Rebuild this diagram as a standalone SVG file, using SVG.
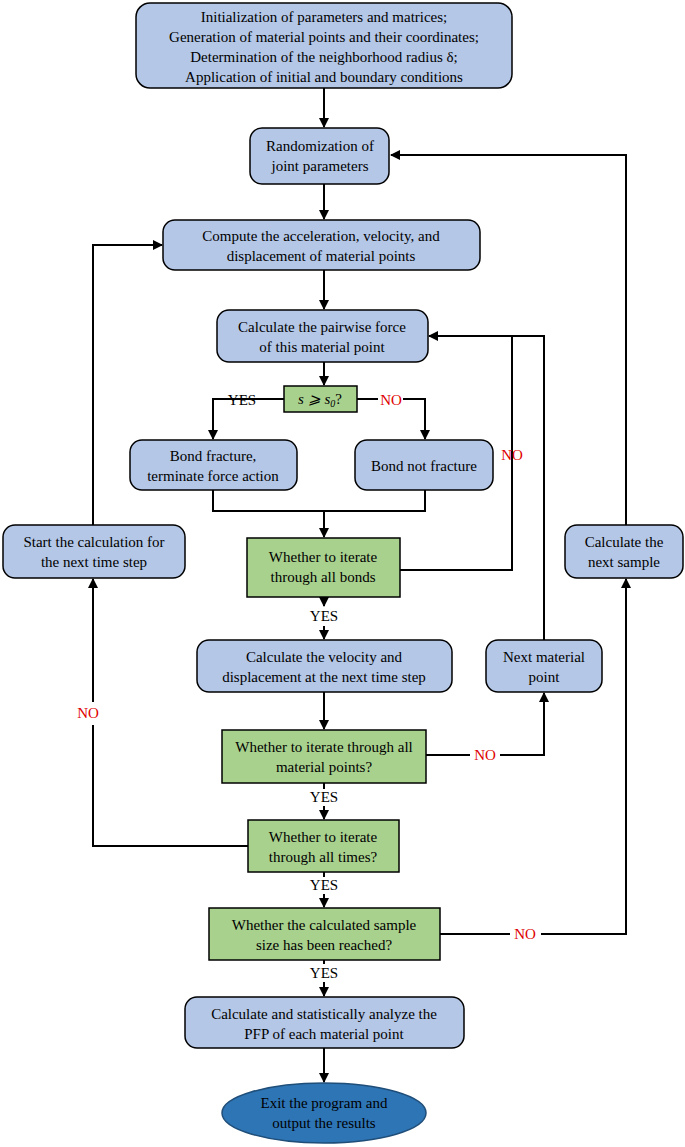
<svg xmlns="http://www.w3.org/2000/svg" width="685" height="1147" viewBox="0 0 685 1147">
<defs>
<style>
.b{fill:#b4c7e7;stroke:#000;stroke-width:1.5}
.g{fill:#a9d18e;stroke:#000;stroke-width:1.5}
text{font-family:"Liberation Serif",serif;font-size:15px;text-anchor:middle;fill:#000}
.r{fill:#e00000}
.c{fill:none;stroke:#000;stroke-width:2}
</style>
<marker id="a" viewBox="0 0 10 10" refX="9" refY="5" markerWidth="5" markerHeight="5" orient="auto"><path d="M0,0 L10,5 L0,10 z" fill="#000"/></marker>
</defs>
<g id="conn">
<path class="c" marker-end="url(#a)" d="M324,88 V127"/>
<path class="c" marker-end="url(#a)" d="M324,184 V219"/>
<path class="c" marker-end="url(#a)" d="M324,270 V309"/>
<path class="c" marker-end="url(#a)" d="M324,362 V385"/>
<path class="c" marker-end="url(#a)" d="M268,399 H213 V439"/>
<path class="c" d="M284,399 H268"/>
<path class="c" marker-end="url(#a)" d="M403,399 H425 V439"/>
<path class="c" d="M357,399 H378"/>
<path class="c" d="M213,490 V511 H425 V490"/>
<path class="c" marker-end="url(#a)" d="M324,511 V537"/>
<path class="c" d="M400,570 H512 V336"/>
<path class="c" marker-end="url(#a)" d="M544,640 V336 H429"/>
<path class="c" marker-end="url(#a)" d="M324,597 V606"/>
<path class="c" marker-end="url(#a)" d="M324,626 V639"/>
<path class="c" marker-end="url(#a)" d="M324,692 V729"/>
<path class="c" d="M426,755 H470"/>
<path class="c" marker-end="url(#a)" d="M500,755 H544 V693"/>
<path class="c" d="M324,783 V789"/>
<path class="c" marker-end="url(#a)" d="M324,806 V819"/>
<path class="c" d="M248,846 H93 V725"/>
<path class="c" marker-end="url(#a)" d="M93,702 V579"/>
<path class="c" marker-end="url(#a)" d="M93,525 V245 H162"/>
<path class="c" d="M324,872 V877"/>
<path class="c" marker-end="url(#a)" d="M324,894 V907"/>
<path class="c" d="M440,934 H510"/>
<path class="c" marker-end="url(#a)" d="M541,934 H626 V579"/>
<path class="c" marker-end="url(#a)" d="M626,525 V155 H391"/>
<path class="c" d="M324,960 V964"/>
<path class="c" marker-end="url(#a)" d="M324,982 V996"/>
<path class="c" marker-end="url(#a)" d="M324,1048 V1082"/>
<text x="242" y="405">YES</text>
<text class="r" x="391" y="405">NO</text>
<text class="r" x="512" y="460">NO</text>
<text x="324" y="621">YES</text>
<text class="r" x="485" y="760">NO</text>
<text x="324" y="802">YES</text>
<text class="r" x="88" y="718">NO</text>
<text x="324" y="890">YES</text>
<text class="r" x="525" y="939">NO</text>
<text x="324" y="978">YES</text>
</g>
<g id="n1"><rect class="b" x="136" y="3" width="376" height="85" rx="14"/>
<text x="324" y="22">Initialization of parameters and matrices;</text>
<text x="324" y="42">Generation of material points and their coordinates;</text>
<text x="324" y="62">Determination of the neighborhood radius δ;</text>
<text x="324" y="82">Application of initial and boundary conditions</text></g>
<g id="n2"><rect class="b" x="250" y="128" width="139" height="56" rx="12"/>
<text x="320" y="151">Randomization of</text><text x="320" y="171">joint parameters</text></g>
<g id="n3"><rect class="b" x="163" y="220" width="317" height="50" rx="12"/>
<text x="321" y="241">Compute the acceleration, velocity, and</text><text x="321" y="261">displacement of material points</text></g>
<g id="n4"><rect class="b" x="217" y="310" width="211" height="52" rx="12"/>
<text x="322" y="332">Calculate the pairwise force</text><text x="322" y="352">of this material point</text></g>
<g id="n5"><rect class="g" x="284" y="386" width="73" height="26"/>
<text x="320" y="404" style="font-style:italic">s ⩾ s<tspan font-size="10" dy="3">0</tspan><tspan dy="-3" font-style="normal">?</tspan></text></g>
<g id="n6"><rect class="b" x="130" y="440" width="167" height="50" rx="12"/>
<text x="213" y="461">Bond fracture,</text><text x="213" y="481">terminate force action</text></g>
<g id="n7"><rect class="b" x="355" y="440" width="138" height="50" rx="12"/>
<text x="424" y="471">Bond not fracture</text></g>
<g id="n8"><rect class="g" x="247" y="538" width="153" height="59"/>
<text x="323" y="562">Whether to iterate</text><text x="323" y="582">through all bonds</text><text x="323" y="600" visibility="hidden"></text></g>
<g id="n9"><rect class="b" x="197" y="640" width="255" height="52" rx="12"/>
<text x="324" y="662">Calculate the velocity and</text><text x="324" y="682">displacement at the next time step</text></g>
<g id="n10"><rect class="g" x="222" y="730" width="204" height="53"/>
<text x="324" y="752">Whether to iterate through all</text><text x="324" y="772">material points?</text></g>
<g id="n11"><rect class="g" x="248" y="820" width="151" height="52"/>
<text x="323" y="842">Whether to iterate</text><text x="323" y="862">through all times?</text></g>
<g id="n12"><rect class="g" x="209" y="908" width="231" height="52"/>
<text x="324" y="930">Whether the calculated sample</text><text x="324" y="950">size has been reached?</text></g>
<g id="n13"><rect class="b" x="185" y="997" width="279" height="51" rx="12"/>
<text x="324" y="1019">Calculate and statistically analyze the</text><text x="324" y="1039">PFP of each material point</text></g>
<g id="n14"><ellipse cx="324" cy="1113" rx="102" ry="30" fill="#2e75b6" stroke="#1f4e79" stroke-width="1.5"/>
<text x="324" y="1108">Exit the program and</text><text x="324" y="1128">output the results</text></g>
<g id="n15"><rect class="b" x="3" y="525" width="182" height="53" rx="12"/>
<text x="94" y="547">Start the calculation for</text><text x="94" y="567">the next time step</text></g>
<g id="n16"><rect class="b" x="486" y="640" width="116" height="52" rx="12"/>
<text x="544" y="662">Next material</text><text x="544" y="682">point</text></g>
<g id="n17"><rect class="b" x="565" y="525" width="118" height="53" rx="12"/>
<text x="624" y="547">Calculate the</text><text x="624" y="567">next sample</text></g>
</svg>
